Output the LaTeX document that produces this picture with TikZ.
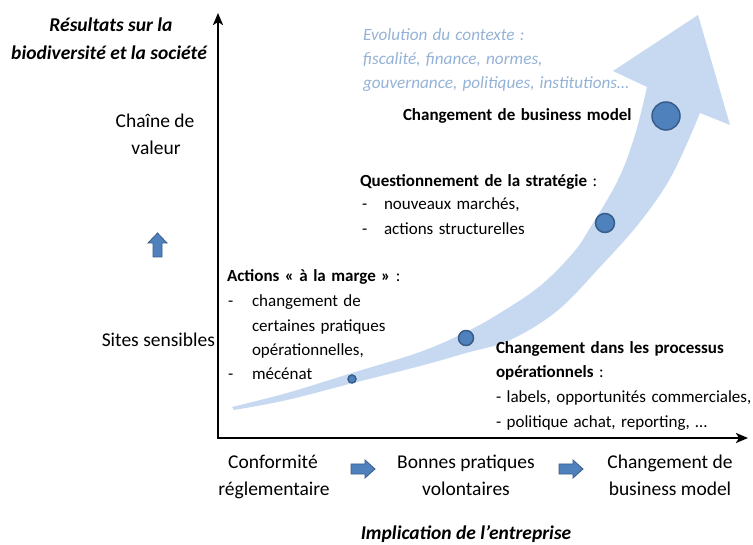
\documentclass[tikz,border=0pt]{standalone}
\usepackage{fontspec}
\setmainfont{Carlito}
\usetikzlibrary{arrows.meta}
\definecolor{bandcol}{RGB}{198,217,241}
\definecolor{dotfill}{RGB}{79,129,189}
\definecolor{dotline}{RGB}{56,93,138}
\definecolor{ctxcol}{RGB}{149,179,215}
\newcommand\mysmallfont{\fontsize{17}{24}\selectfont\spaceskip=0.32em plus 0.1em\relax}
\newcommand\myctxfont{\fontsize{17.2}{24}\selectfont\itshape\spaceskip=0.3em plus 0.1em\relax}
\begin{document}
\begin{tikzpicture}[x=1pt,y=-1pt,
  every node/.style={inner sep=0pt,outer sep=0pt},
  big/.style={font=\fontsize{19.5}{24}\selectfont},
  bigbi/.style={font=\fontsize{19.5}{24}\selectfont\bfseries\itshape},
  small/.style={font=\mysmallfont},
  ctx/.style={font=\myctxfont,text=ctxcol},
  axisline/.style={line width=2.5pt,-{Stealth[length=12pt,width=10pt,inset=3pt]}},
  dot/.style={circle,fill=dotfill,draw=dotline,line width=1.5pt},
  blockarrow/.style={fill=dotfill,draw=dotline,line width=0.8pt}]
\useasboundingbox (0,0) rectangle (753,545);
\fill[white] (0,0) rectangle (753,545);

% big curved arrow
\fill[bandcol] plot[smooth,tension=0.6] coordinates {(232,407) (287,393) (352,373) (420,352) (466,332) (500,313) (540,286) (573,253) (590,228) (618,180) (635,135) (647,87)}
  -- (613,71) -- (698,15) -- (730,125)
  -- plot[smooth,tension=0.6] coordinates {(700,113) (672,175) (640,222) (600,267) (557,311) (510,340) (466,353) (420,366) (353,383) (287,400) (234,410)}
  -- cycle;

% axes
\coordinate (O) at (218,438);
\coordinate (Ytop) at (218,13);
\coordinate (Xend) at (748,438);
\draw[axisline] (O) -- (Ytop);
\draw[axisline] ([xshift=-1.25pt]O) -- (Xend);

% dots
\node[dot,minimum size=8pt] (d1) at (352,379) {};
\node[dot,minimum size=15pt] (d2) at (466,338) {};
\node[dot,minimum size=19pt] (d3) at (605,223) {};
\node[dot,minimum size=28pt] (d4) at (666,116) {};

% axis titles
\node[bigbi,anchor=base] (yt1) at (111,32) {Résultats sur la};
\node[bigbi,anchor=base] (yt2) at (109,60) {biodiversité et la société};
\node[bigbi,anchor=base] (xt) at (466,539) {Implication de l’entreprise};

% y labels
\node[big,anchor=base] (cv1) at (155,128) {Chaîne de};
\node[big,anchor=base] (cv2) at (156,155) {valeur};
\node[big,anchor=base east] (ss) at (215,347) {Sites sensibles};
\draw[blockarrow] (153,257) -- (153,243) -- (148,243) -- (157.5,233) -- (167,243) -- (162,243) -- (162,257) -- cycle;

% x labels
\node[big,anchor=base] (x1a) at (273,468) {Conformité};
\node[big,anchor=base] (x1b) at (274,495) {réglementaire};
\node[big,anchor=base] (x2a) at (466,468) {Bonnes pratiques};
\node[big,anchor=base] (x2b) at (466,495) {volontaires};
\node[big,anchor=base] (x3a) at (670,468) {Changement de};
\node[big,anchor=base] (x3b) at (670,495) {business model};
\draw[blockarrow] (351,464) -- (365,464) -- (365,460) -- (375,469) -- (365,478) -- (365,474) -- (351,474) -- cycle;
\draw[blockarrow] (559,464) -- (573,464) -- (573,460) -- (583,469) -- (573,478) -- (573,474) -- (559,474) -- cycle;

% context
\node[ctx,anchor=base west] (c1) at (363,41) {Evolution du contexte :};
\node[ctx,anchor=base west] (c2) at (363,65) {fiscalité, finance, normes,};
\node[ctx,anchor=base west] (c3) at (363,89) {gouvernance, politiques, institutions…};

% stage texts
\node[small,anchor=base west] (bm) at (403,121) {\bfseries Changement de business model};

\node[small,anchor=base west] (q0) at (360,187) {\textbf{Questionnement de la stratégie} :};
\node[small,anchor=base west] (q1d) at (362,210) {-};
\node[small,anchor=base west] (q1) at (384,210) {nouveaux marchés,};
\node[small,anchor=base west] (q2d) at (362,235) {-};
\node[small,anchor=base west] (q2) at (384,235) {actions structurelles};

\node[small,anchor=base west] (a0) at (227,282) {\textbf{Actions « à la marge »} :};
\node[small,anchor=base west] (a1d) at (228,307) {-};
\node[small,anchor=base west] (a1) at (252,307) {changement de};
\node[small,anchor=base west] (a2) at (252,332) {certaines pratiques};
\node[small,anchor=base west] (a3) at (252,356) {opérationnelles,};
\node[small,anchor=base west] (a4d) at (228,380) {-};
\node[small,anchor=base west] (a4) at (252,380) {mécénat};

\node[small,anchor=base west] (p0) at (496,354) {\bfseries Changement dans les processus};
\node[small,anchor=base west] (p1) at (496,378) {\textbf{opérationnels} :};
\node[small,anchor=base west] (p2) at (496,403) {- labels, opportunités commerciales,};
\node[small,anchor=base west] (p3) at (496,428) {- politique achat, reporting, …};
\end{tikzpicture}
\end{document}
